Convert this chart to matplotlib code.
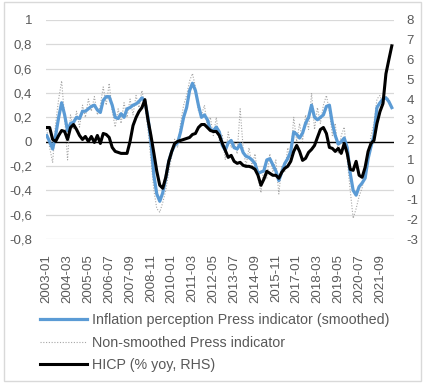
import matplotlib.pyplot as plt
import pandas as pd
from matplotlib.patches import Rectangle

# ---------------------------------------------------------
# Data (bi-monthly readings, 2003-01 onwards)
# ---------------------------------------------------------
start = "2003-01-01"

# Inflation perception Press indicator (smoothed), left axis
press_smoothed = [
    0.05, 0.00, -0.06, 0.05, 0.20, 0.32, 0.22, 0.09, 0.15, 0.16,
    0.20, 0.19, 0.25, 0.25, 0.27, 0.29, 0.30, 0.26, 0.24, 0.34,
    0.37, 0.37, 0.30, 0.20, 0.19, 0.23, 0.20, 0.27, 0.28, 0.30,
    0.31, 0.33, 0.36, 0.33, 0.20, 0.00, -0.28, -0.43, -0.49, -0.42,
    -0.30, -0.16, -0.08, -0.03, -0.01, 0.08, 0.20, 0.28, 0.42, 0.48,
    0.42, 0.30, 0.20, 0.22, 0.18, 0.10, 0.09, 0.12, 0.08, -0.03,
    -0.07, -0.01, 0.01, -0.05, -0.06, -0.02, -0.09, -0.12, -0.13, -0.15,
    -0.18, -0.26, -0.25, -0.24, -0.15, -0.14, -0.19, -0.24, -0.32, -0.25,
    -0.18, -0.14, -0.08, 0.08, 0.06, 0.03, 0.07, 0.15, 0.20, 0.30,
    0.20, 0.18, 0.20, 0.22, 0.29, 0.30, 0.15, 0.05, -0.02, 0.00,
    0.03, -0.05, -0.26, -0.40, -0.44, -0.37, -0.34, -0.30, -0.14, -0.04,
    0.05, 0.28, 0.32, 0.35, 0.36, 0.33, 0.28,
]

# Non-smoothed Press indicator, left axis
press_raw = [
    0.10, -0.05, -0.17, 0.15, 0.35, 0.50, 0.20, -0.15, 0.22, 0.10,
    0.25, 0.12, 0.30, 0.20, 0.35, 0.25, 0.37, 0.22, 0.30, 0.45,
    0.30, 0.48, 0.25, 0.12, 0.27, 0.15, 0.32, 0.20, 0.35, 0.22,
    0.38, 0.28, 0.42, 0.30, 0.10, -0.15, -0.40, -0.55, -0.58, -0.50,
    -0.40, -0.25, -0.12, 0.02, -0.05, 0.15, 0.30, 0.38, 0.50, 0.56,
    0.45, 0.25, 0.22, 0.30, 0.12, 0.20, 0.05, 0.20, 0.00, 0.05,
    -0.15, 0.08, -0.05, 0.00, -0.10, 0.27, -0.05, -0.20, -0.05, -0.20,
    -0.10, -0.30, -0.42, -0.20, -0.30, -0.10, -0.25, -0.15, -0.43, -0.20,
    -0.25, -0.05, -0.12, 0.20, 0.00, 0.15, 0.00, 0.22, 0.10, 0.40,
    0.10, 0.28, 0.15, 0.30, 0.38, 0.25, 0.05, 0.15, -0.10, 0.05,
    0.12, -0.15, -0.40, -0.63, -0.55, -0.45, -0.38, -0.25, -0.10, 0.05,
    0.15, 0.35, 0.38, 0.30, 0.37, 0.35, 0.28,
]

# HICP (% yoy), right axis
hicp = [
    2.6, 2.6, 2.0, 1.9, 2.2, 2.45, 2.4, 2.0, 2.6, 2.75,
    2.5, 2.2, 2.0, 2.15, 1.9, 2.15, 1.85, 2.2, 1.8, 2.3,
    2.25, 2.1, 1.6, 1.4, 1.35, 1.3, 1.3, 1.3, 1.9, 2.7,
    3.1, 3.4, 3.6, 4.0, 3.0, 2.2, 1.3, 0.4, -0.3, -0.45,
    0.1, 0.9, 1.4, 1.8, 1.9, 1.95, 2.0, 2.05, 2.1, 2.25,
    2.3, 2.6, 2.75, 2.75, 2.6, 2.45, 2.4, 2.4, 2.2, 1.8,
    1.45, 1.1, 1.2, 0.9, 0.8, 0.85, 0.7, 0.65, 0.65, 0.6,
    0.5, 0.2, -0.3, 0.0, 0.4, 0.3, 0.2, 0.2, 0.05, 0.35,
    0.55, 0.65, 0.9, 1.4, 1.7, 1.4, 0.95, 1.05, 1.35, 1.5,
    1.7, 2.1, 2.5, 2.6, 2.3, 1.6, 1.55, 1.4, 1.55, 1.3,
    1.8, 1.3, 0.5, 0.45, 0.9, 0.2, 0.1, 0.6, 1.4, 1.8,
    1.95, 2.8, 3.4, 3.8, 5.3, 6.0, 6.7,
]

tick_labels = [
    "2003-01", "2004-03", "2005-05", "2006-07", "2007-09", "2008-11",
    "2010-01", "2011-03", "2012-05", "2013-07", "2014-09", "2015-11",
    "2017-01", "2018-03", "2019-05", "2020-07", "2021-09",
]

left_ticks = [1, 0.8, 0.6, 0.4, 0.2, 0, -0.2, -0.4, -0.6, -0.8]
right_ticks = [8, 7, 6, 5, 4, 3, 2, 1, 0, -1, -2, -3]

labels = [
    "Inflation perception Press indicator (smoothed)",
    "Non-smoothed Press indicator",
    "HICP (% yoy, RHS)",
]

# ---------------------------------------------------------
# Plot
# ---------------------------------------------------------
plt.rcParams["font.family"] = ["Liberation Sans", "DejaVu Sans"]
text_color = "#595959"
grid_color = "#D9D9D9"

dates = pd.date_range(start, periods=len(press_smoothed), freq="2MS")

fig = plt.figure(figsize=(4.27, 3.86), dpi=100)
ax = fig.add_axes([46 / 427, 1 - 239 / 386, 348 / 427, 219 / 386])
ax2 = ax.twinx()

for v in left_ticks:
    ax.axhline(v, color=grid_color, lw=0.9, zorder=0)
ax.axhline(0, color="black", lw=1.0, zorder=1)

l1, = ax.plot(dates, press_smoothed, color="#5B9BD5", lw=2.3, zorder=3)
l2, = ax.plot(dates, press_raw, color="#A6A6A6", lw=0.8,
              linestyle=(0, (1, 1.5)), zorder=2)
l3, = ax2.plot(dates, hicp, color="black", lw=2.2, zorder=4)

ax.set_ylim(-0.8, 1)
ax2.set_ylim(-3, 8)
ax.set_xlim(pd.Timestamp("2002-12-16"), pd.Timestamp("2022-06-15"))

ax.set_yticks(left_ticks)
ax.set_yticklabels([f"{v:g}".replace(".", ",") for v in left_ticks])
ax2.set_yticks(right_ticks)
ax2.set_yticklabels([str(v) for v in right_ticks])

tick_dates = [pd.Timestamp(t + "-01") for t in tick_labels]
ax.set_xticks(tick_dates)
ax.set_xticklabels(tick_labels, rotation=90)

for a in (ax, ax2):
    for s in a.spines.values():
        s.set_visible(False)
    a.tick_params(length=0, colors=text_color, labelsize=9.5)
ax.tick_params(axis="y", pad=10)
ax2.tick_params(axis="y", pad=9)
ax.tick_params(axis="x", pad=11)

fig.legend([l1, l2, l3], labels, loc="upper left",
           bbox_to_anchor=(40 / 427, 1 - 313 / 386), frameon=False,
           fontsize=10.3, labelcolor=text_color, handlelength=3.3,
           handletextpad=0.3, labelspacing=0.6, borderpad=0,
           borderaxespad=0)

fig.patches.append(Rectangle((4 / 427, 1 - 381 / 386), 417 / 427, 379 / 386,
                             transform=fig.transFigure, fill=False,
                             edgecolor=grid_color, lw=1.0))

fig.savefig("out.png", dpi=100)
